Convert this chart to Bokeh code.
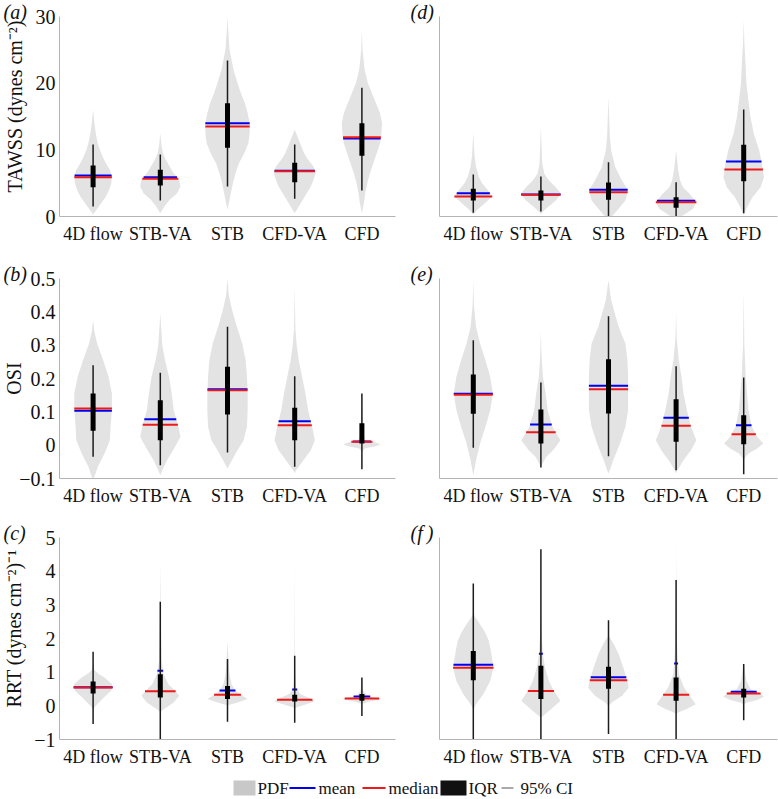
import numpy as np
from bokeh.plotting import figure
from bokeh.models import Range1d, FixedTicker, Title
from bokeh.layouts import column, row
from bokeh.embed import file_html
from bokeh.resources import INLINE
from bokeh.core.properties import value

FONT = "Liberation Serif"
categories = ["4D flow", "STB-VA", "STB", "CFD-VA", "CFD"]

a_pdf_y = [[0.3, 1, 2, 3, 4, 5, 6, 7, 8, 9, 10, 11, 12.5, 14, 16],
           [0.5, 1.5, 2.5, 3.5, 4.5, 5.5, 6.5, 7.5, 8.5, 9.5, 10.5, 12.5],
           [1, 2, 3.5, 5, 6.5, 8, 9.5, 11, 12.5, 14, 15.5, 17, 18.5, 20, 22, 25, 28, 30],
           [0.5, 1.5, 3, 4.5, 5.5, 6.5, 7.5, 8.5, 9.5, 10.5, 11.5, 13],
           [0.5, 2, 3.5, 5, 6.5, 8, 9.5, 11, 12.5, 14, 15.5, 17, 18.5, 20, 22, 25, 28]]
a_pdf_w = [[0.0, 0.05, 0.12, 0.19, 0.24, 0.27, 0.28, 0.25, 0.19, 0.14, 0.1, 0.07, 0.04, 0.02, 0.0],
           [0.0, 0.06, 0.14, 0.25, 0.30, 0.28, 0.2, 0.14, 0.08, 0.04, 0.02, 0.0],
           [0.0, 0.02, 0.05, 0.08, 0.12, 0.17, 0.25, 0.31, 0.33, 0.33, 0.3, 0.26, 0.2, 0.15, 0.09, 0.03, 0.01, 0.0],
           [0.0, 0.06, 0.15, 0.24, 0.28, 0.31, 0.28, 0.2, 0.14, 0.1, 0.06, 0.0],
           [0.0, 0.03, 0.05, 0.08, 0.12, 0.17, 0.22, 0.27, 0.29, 0.3, 0.27, 0.21, 0.15, 0.09, 0.04, 0.01, 0.0]]
a_mean = [6.15, 5.9, 14.0, 6.85, 11.7]
a_median = [5.9, 5.65, 13.5, 6.8, 11.9]
a_q1 = [4.4, 4.65, 10.3, 5.15, 9.1]
a_q3 = [7.65, 7.0, 17.0, 8.05, 14.0]
a_lo = [1.5, 2.4, 4.5, 2.65, 3.9]
a_hi = [10.8, 9.3, 23.4, 10.8, 19.3]

d_pdf_y = [[0.3, 1, 2, 3, 4, 5, 6, 7.5, 9, 12.5],
           [0.3, 0.65, 1.4, 2.4, 3.4, 4.4, 5.4, 6.4, 8, 13.4],
           [-0.3, 0, 1.15, 2.4, 3.9, 5.4, 7.4, 9.9, 12, 18],
           [-0.2, 0.15, 1.15, 2.15, 3.4, 4.4, 5.4, 7, 9.9],
           [0.2, 0.4, 1.4, 2.9, 4.4, 5.9, 7.4, 9.9, 12.4, 14.9, 17.4, 20, 22.4, 26, 29.4]]
d_pdf_w = [[0.0, 0.06, 0.17, 0.28, 0.21, 0.13, 0.08, 0.04, 0.02, 0.0],
           [0.0, 0.02, 0.1, 0.22, 0.30, 0.22, 0.12, 0.05, 0.02, 0.0],
           [0.0, 0.05, 0.15, 0.25, 0.29, 0.2, 0.1, 0.04, 0.02, 0.0],
           [0.0, 0.1, 0.25, 0.30, 0.2, 0.1, 0.06, 0.03, 0.0],
           [0.0, 0.01, 0.05, 0.13, 0.25, 0.30, 0.28, 0.23, 0.15, 0.1, 0.07, 0.04, 0.03, 0.01, 0.0]]
d_mean = [3.5, 3.3, 4.0, 2.35, 8.25]
d_median = [3.0, 3.25, 3.65, 2.15, 7.05]
d_q1 = [2.4, 2.4, 2.5, 1.3, 5.3]
d_q3 = [4.15, 3.9, 5.1, 2.9, 10.75]
d_lo = [0.55, 0.75, 0.0, 0.0, 0.5]
d_hi = [6.3, 6.0, 8.15, 5.15, 16.05]

b_pdf_y = [[-0.105, -0.095, -0.065, -0.025, 0.015, 0.055, 0.105, 0.155, 0.205, 0.255, 0.305, 0.34, 0.375],
           [-0.09, -0.075, -0.045, -0.005, 0.025, 0.055, 0.105, 0.155, 0.205, 0.255, 0.3, 0.395],
           [-0.07, -0.055, -0.025, 0.015, 0.055, 0.105, 0.155, 0.205, 0.255, 0.305, 0.355, 0.405, 0.45, 0.5],
           [-0.085, -0.075, -0.045, -0.015, 0.015, 0.055, 0.105, 0.155, 0.205, 0.255, 0.3, 0.35, 0.475],
           [-0.02, -0.01, -0.003, 0.003, 0.008, 0.015, 0.03, 0.06, 0.1, 0.165]]
b_pdf_w = [[0.0, 0.02, 0.07, 0.17, 0.25, 0.26, 0.28, 0.28, 0.23, 0.15, 0.06, 0.02, 0.0],
           [0.0, 0.03, 0.1, 0.22, 0.30, 0.27, 0.2, 0.17, 0.13, 0.07, 0.03, 0.0],
           [0.0, 0.04, 0.12, 0.24, 0.29, 0.30, 0.30, 0.29, 0.27, 0.22, 0.14, 0.07, 0.02, 0.0],
           [0.0, 0.02, 0.13, 0.24, 0.30, 0.26, 0.2, 0.16, 0.11, 0.06, 0.03, 0.01, 0.0],
           [0.0, 0.04, 0.2, 0.28, 0.2, 0.05, 0.03, 0.02, 0.01, 0.0]]
b_mean = [0.103, 0.078, 0.168, 0.072, 0.011]
b_median = [0.11, 0.061, 0.165, 0.06, 0.01]
b_q1 = [0.043, 0.015, 0.092, 0.015, 0.005]
b_q3 = [0.155, 0.135, 0.235, 0.112, 0.066]
b_lo = [-0.035, -0.06, -0.022, -0.065, -0.072]
b_hi = [0.24, 0.217, 0.355, 0.207, 0.155]

e_pdf_y = [[-0.09, -0.08, -0.045, 0.005, 0.055, 0.105, 0.155, 0.205, 0.255, 0.305, 0.355, 0.42, 0.495],
           [-0.07, -0.06, -0.035, -0.015, 0.015, 0.055, 0.105, 0.155, 0.205, 0.27, 0.345],
           [-0.085, -0.075, -0.045, 0.005, 0.055, 0.105, 0.155, 0.205, 0.255, 0.305, 0.355, 0.435, 0.495],
           [-0.085, -0.075, -0.045, -0.015, 0.015, 0.055, 0.105, 0.155, 0.205, 0.255, 0.32, 0.395],
           [-0.05, -0.04, -0.025, -0.01, 0.005, 0.025, 0.055, 0.105, 0.155, 0.205, 0.3, 0.465]]
e_pdf_w = [[0.0, 0.01, 0.04, 0.1, 0.18, 0.25, 0.29, 0.25, 0.18, 0.1, 0.04, 0.01, 0.0],
           [0.0, 0.01, 0.08, 0.18, 0.29, 0.17, 0.1, 0.07, 0.03, 0.01, 0.0],
           [0.0, 0.02, 0.07, 0.17, 0.25, 0.29, 0.29, 0.29, 0.28, 0.25, 0.15, 0.04, 0.0],
           [0.0, 0.02, 0.11, 0.22, 0.30, 0.22, 0.16, 0.11, 0.08, 0.04, 0.01, 0.0],
           [0.0, 0.01, 0.07, 0.2, 0.29, 0.2, 0.12, 0.07, 0.05, 0.03, 0.01, 0.0]]
e_mean = [0.154, 0.062, 0.178, 0.082, 0.06]
e_median = [0.151, 0.039, 0.168, 0.058, 0.033]
e_q1 = [0.094, 0.005, 0.095, 0.01, 0.003]
e_q3 = [0.212, 0.107, 0.258, 0.138, 0.09]
e_lo = [-0.008, -0.067, -0.033, -0.075, -0.087]
e_hi = [0.315, 0.188, 0.387, 0.237, 0.203]

c_pdf_y = [[-0.1, 0.0, 0.25, 0.45, 0.55, 0.65, 0.84, 0.95, 1.06, 1.3],
           [-0.2, -0.17, -0.1, 0.1, 0.3, 0.45, 0.64, 0.94, 1.34, 2.2, 4.2],
           [0.0, 0.03, 0.1, 0.2, 0.3, 0.45, 0.64, 0.94, 1.34, 1.93],
           [-0.08, -0.05, 0.03, 0.13, 0.2, 0.35, 0.54, 1.0, 4.3],
           [0.04, 0.07, 0.12, 0.2, 0.3, 0.45, 0.84]]
c_pdf_w = [[0.0, 0.04, 0.16, 0.27, 0.29, 0.28, 0.17, 0.08, 0.02, 0.0],
           [0.0, 0.01, 0.05, 0.2, 0.28, 0.22, 0.12, 0.05, 0.02, 0.01, 0.0],
           [0.0, 0.03, 0.15, 0.3, 0.22, 0.12, 0.06, 0.03, 0.015, 0.0],
           [0.0, 0.02, 0.15, 0.3, 0.25, 0.08, 0.02, 0.005, 0.0],
           [0.0, 0.02, 0.1, 0.3, 0.08, 0.02, 0.0]]
c_mean = [0.55, 1.04, 0.455, 0.485, 0.28]
c_median = [0.545, 0.43, 0.33, 0.18, 0.22]
c_q1 = [0.37, 0.25, 0.2, 0.13, 0.15]
c_q3 = [0.72, 0.94, 0.59, 0.33, 0.35]
c_lo = [-0.54, -1.0, -0.47, -0.5, -0.3]
c_hi = [1.61, 3.09, 1.39, 1.49, 0.84]

f_pdf_y = [[-0.1, 0.05, 0.35, 0.74, 1.14, 1.63, 1.93, 2.2, 2.45, 2.72],
           [-0.35, -0.3, -0.1, 0.15, 0.45, 0.74, 1.14, 1.53, 2.2, 2.72],
           [0.0, 0.1, 0.3, 0.54, 0.74, 1.14, 1.53, 1.75, 1.93, 2.1],
           [-0.25, -0.2, -0.1, 0.05, 0.25, 0.54, 0.94, 1.53, 2.5, 4.9],
           [0.05, 0.1, 0.17, 0.27, 0.37, 0.5, 0.74, 1.24]]
f_pdf_w = [[0.0, 0.04, 0.15, 0.25, 0.3, 0.26, 0.23, 0.17, 0.09, 0.0],
           [0.0, 0.03, 0.15, 0.29, 0.19, 0.12, 0.06, 0.03, 0.01, 0.0],
           [0.0, 0.05, 0.2, 0.3, 0.28, 0.22, 0.15, 0.1, 0.05, 0.0],
           [0.0, 0.03, 0.15, 0.29, 0.22, 0.12, 0.04, 0.02, 0.005, 0.0],
           [0.0, 0.05, 0.2, 0.3, 0.25, 0.1, 0.04, 0.0]]
f_mean = [1.22, 1.55, 0.85, 1.26, 0.42]
f_median = [1.13, 0.44, 0.76, 0.33, 0.37]
f_q1 = [0.76, 0.2, 0.51, 0.15, 0.25]
f_q3 = [1.63, 1.19, 1.16, 0.84, 0.51]
f_lo = [-1.0, -1.0, -0.84, -1.0, -0.43]
f_hi = [3.63, 4.65, 2.54, 3.74, 1.24]

tawss_ticks = [0, 10, 20, 30]
osi_ticks = [-0.1, 0, 0.1, 0.2, 0.3, 0.4, 0.5]
rrt_ticks = [-1, 0, 1, 2, 3, 4, 5]

VIOLIN = "#e3e3e3"
BLUE = "#0000f0"
RED = "#ee1a1a"
AXIS = "#b4b4b4"
INK = "#111111"
NB = "\u00a0"


def fmt(t):
    return ("%g" % t).replace("-", "\u2212")


def panel(left, width, height, top, bottom, yr, ticks, pdf_y, pdf_w, mean, median,
          q1, q3, lo, hi, letter, ylabel=None, label_standoff=0, letter_standoff=-12):
    if left:
        mbl, mbr = 58, 5
    else:
        mbl, mbr = 39, 1
    p = figure(width=width, height=height, x_range=Range1d(0.5, 5.5), y_range=Range1d(*yr),
               output_backend="svg", toolbar_location=None,
               min_border_left=mbl, min_border_right=mbr, min_border_top=top,
               min_border_bottom=bottom)
    p.grid.visible = False
    p.outline_line_color = None

    xs = list(range(1, len(categories) + 1))
    p.xaxis.ticker = FixedTicker(ticks=xs)
    p.xaxis.major_label_overrides = {x: c for x, c in zip(xs, categories)}
    if left:
        p.yaxis.ticker = FixedTicker(ticks=ticks)
        p.yaxis.major_label_overrides = {t: fmt(t) for t in ticks}
    else:
        p.yaxis.ticker = FixedTicker(ticks=[])
    for ax in (p.xaxis[0], p.yaxis[0]):
        ax.axis_line_color = AXIS
        ax.major_tick_line_color = None
        ax.minor_tick_line_color = None
        ax.major_tick_out = 0
        ax.major_tick_in = 0
        ax.major_label_text_font = FONT
        ax.major_label_text_color = INK
    p.xaxis.major_label_text_font_size = "18px"
    p.xaxis.major_label_standoff = 7
    p.yaxis.major_label_text_font_size = "20px"
    p.yaxis.major_label_standoff = 4
    if ylabel:
        p.yaxis.axis_label = ylabel
        p.yaxis.axis_label_text_font = FONT
        p.yaxis.axis_label_text_font_style = "normal"
        p.yaxis.axis_label_text_font_size = "20px"
        p.yaxis.axis_label_text_color = INK
        p.yaxis.axis_label_standoff = label_standoff

    vx, vy = [], []
    for i, (ys, ws) in enumerate(zip(pdf_y, pdf_w)):
        c = xs[i]
        vx.append([c + w for w in ws] + [c - w for w in ws[::-1]])
        vy.append(list(ys) + list(ys[::-1]))
    p.patches(vx, vy, fill_color=VIOLIN, line_color=None)

    def span(vals):
        x0, x1 = [], []
        for i, v in enumerate(vals):
            w = float(np.interp(v, pdf_y[i], pdf_w[i]))
            x0.append(xs[i] - w)
            x1.append(xs[i] + w)
        return x0, x1

    m0, m1 = span(mean)
    p.segment(m0, mean, m1, mean, line_color=BLUE, line_width=2)
    d0, d1 = span(median)
    p.segment(d0, median, d1, median, line_color=RED, line_width=2)
    p.segment(xs, lo, xs, hi, line_color="#1c1c1c", line_width=1.5)
    p.segment(xs, q1, xs, q3, line_color="black", line_width=5, line_cap="butt")

    label = "(%s\u2009)" % letter if letter == "f" else "(%s)" % letter
    t = Title(text=label, align="left", offset=(-56 if left else -29),
              standoff=letter_standoff, text_font=FONT, text_font_size="20px",
              text_font_style="italic", text_color=INK)
    p.add_layout(t, "above")
    return p


LW, RW = 400, 378
pa = panel(True, LW, 256, 16, 40, (0, 30), tawss_ticks, a_pdf_y, a_pdf_w, a_mean, a_median,
           a_q1, a_q3, a_lo, a_hi, "a", NB * 4 + "TAWSS (dynes cm\u207b\u00b2)", 7)
pd_ = panel(False, RW, 256, 16, 40, (0, 30), tawss_ticks, d_pdf_y, d_pdf_w, d_mean, d_median,
            d_q1, d_q3, d_lo, d_hi, "d")
pb = panel(True, LW, 260, 22, 38, (-0.1, 0.5), osi_ticks, b_pdf_y, b_pdf_w, b_mean, b_median,
           b_q1, b_q3, b_lo, b_hi, "b", "OSI", -9)
pe = panel(False, RW, 260, 22, 38, (-0.1, 0.5), osi_ticks, e_pdf_y, e_pdf_w, e_mean, e_median,
           e_q1, e_q3, e_lo, e_hi, "e")
pc = panel(True, LW, 254, 21, 31, (-1, 5), rrt_ticks, c_pdf_y, c_pdf_w, c_mean, c_median,
           c_q1, c_q3, c_lo, c_hi, "c", NB * 4 + "RRT (dynes cm\u207b\u00b2)\u207b\u00b9", 6)
pf = panel(False, RW, 254, 21, 31, (-1, 5), rrt_ticks, f_pdf_y, f_pdf_w, f_mean, f_median,
           f_q1, f_q3, f_lo, f_hi, "f")

lg = figure(width=LW + RW, height=28, x_range=Range1d(0, LW + RW), y_range=Range1d(0, 28),
            output_backend="svg", toolbar_location=None, x_axis_type=None, y_axis_type=None,
            min_border=0)
lg.grid.visible = False
lg.outline_line_color = None
legend_labels = ["PDF", "mean", "median", "IQR", "95% CI"]
lg.quad(left=[233], right=[255], bottom=[3], top=[18], fill_color="#c8c8c8", line_color=None)
lg.segment([289], [10.5], [315], [10.5], line_color=BLUE, line_width=2)
lg.segment([362], [10.5], [385], [10.5], line_color=RED, line_width=2)
lg.quad(left=[440], right=[466], bottom=[3], top=[18], fill_color="#111111", line_color=None)
lg.segment([501], [10.5], [513], [10.5], line_color="#555555", line_width=1)
lg.text(x=[257, 318, 388, 468, 520], y=[10.5] * 5, text=legend_labels,
        text_font=value(FONT), text_font_size="17px", text_baseline="middle",
        text_color=INK)

layout = column(row(pa, pd_), row(pb, pe), row(pc, pf), lg)
open("out.html", "w").write(file_html(layout, INLINE))
